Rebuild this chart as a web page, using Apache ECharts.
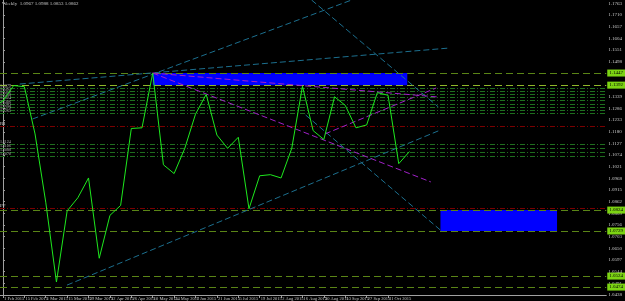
<!DOCTYPE html>
<html>
<head>
<meta charset="utf-8">
<script src="https://cdn.jsdelivr.net/npm/echarts@6/dist/echarts.min.js"></script>
<style>
  html, body { margin: 0; padding: 0; background: #000; }
  #chart { width: 625px; height: 301px; }
</style>
</head>
<body>
<div id="chart"></div>
<script>
// weekly closes, first value is the week before 1 Feb 2015
const firstWeek = -1
const weekCloses = [1.1290, 1.1320, 1.1390, 1.1385, 1.1170, 1.0860, 1.0497, 1.0820, 1.0880, 1.0970,
    1.0605, 1.0800, 1.0845, 1.1195, 1.1198, 1.1447, 1.1030, 1.0990, 1.1105, 1.1260,
    1.1350, 1.1165, 1.1105, 1.1155, 1.0830, 1.0980, 1.0985, 1.0970, 1.1105, 1.1387,
    1.1185, 1.1145, 1.1339, 1.1300, 1.1198, 1.1211, 1.1358, 1.1346, 1.1035, 1.1090]

const dateLabels = ['1 Feb 2015', '15 Feb 2015', '1 Mar 2015', '15 Mar 2015', '29 Mar 2015', '12 Apr 2015',
    '26 Apr 2015', '10 May 2015', '24 May 2015', '7 Jun 2015', '21 Jun 2015', '5 Jul 2015', '19 Jul 2015',
    '2 Aug 2015', '16 Aug 2015', '30 Aug 2015', '13 Sep 2015', '27 Sep 2015', '11 Oct 2015', '25 Oct 2015']

// horizontal levels
const oliveLevels = [1.1447, 1.0824, 1.0729, 1.0524, 1.0474]
const limeLevels = [1.1392]
const greenLevels = [1.1379, 1.1365, 1.1352, 1.1338, 1.1324, 1.1306, 1.1293, 1.1279, 1.1265,
    1.1124, 1.1106, 1.1088, 1.1070]
const redLevels = [1.1206, 1.0833]
const redNames = ['R1', 'PP']

// drawn objects [week, price]
const tealLines = [
    [[1.57, 1.1397], [41.8, 1.1561]],
    [[2.76, 1.1238], [32.6, 1.1779]],
    [[5.99, 1.0483], [40.9, 1.1188]],
    [[28.85, 1.1779], [40.7, 1.1293]],
    [[28.3, 1.1256], [40.9, 1.0733]]
]
const purpleLines = [
    [[14, 1.1447], [40.7, 1.1338]],
    [[14, 1.1447], [40, 1.0952]],
    [[30.1, 1.1170], [40.5, 1.1379]]
]
const boxes = [
    [[14.0, 1.1447], [37.8, 1.1392]],
    [[40.9, 1.0824], [51.8, 1.0729]]
]
const lastPrice = 1.1070

const chart = echarts.init(document.getElementById('chart'))

const lineData = weekCloses.map((v, i) => [firstWeek + i, v])
const tickWeeks = dateLabels.map((d, i) => i * 2)
const small = 'Liberation Sans Narrow'

const endLabel = bg => ({
    show: true, position: 'end', distance: 1, fontSize: 5, color: '#000', fontFamily: small,
    backgroundColor: bg, padding: [1, 2], formatter: p => Number(p.value).toFixed(4)
})

// one empty series per group of drawn lines
function levelSeries(values, color, type, label) {
    return {
        type: 'line', data: [], silent: true, z: 3,
        markLine: {
            silent: true, symbol: ['none', 'none'], animation: false, precision: 4,
            lineStyle: { color: color, type: type, width: 1 },
            emphasis: { disabled: true },
            label: label || { show: false },
            data: values.map(v => ({ yAxis: v }))
        }
    }
}
function trendSeries(lines, color) {
    return {
        type: 'line', data: [], silent: true, z: 4,
        markLine: {
            silent: true, symbol: ['none', 'none'], animation: false, precision: 4,
            lineStyle: { color: color, type: [6, 3], width: 1 },
            emphasis: { disabled: true },
            label: { show: false },
            data: lines.map(p => [{ coord: p[0] }, { coord: p[1] }])
        }
    }
}

chart.setOption({
    backgroundColor: '#000',
    animation: false,
    textStyle: { fontFamily: small },
    graphic: [{
        type: 'text', left: 2, top: 1,
        style: { text: 'Weekly  1.0967 1.0988 1.0853 1.0862', fill: '#c8c8c8', fontSize: 5, fontFamily: small }
    }],
    grid: { left: 0, right: 10, top: 0, bottom: 6 },
    xAxis: {
        type: 'value', min: -0.276, max: 56.4,
        axisLine: { lineStyle: { color: '#a0a0a0' } },
        axisTick: { customValues: tickWeeks, length: 3, lineStyle: { color: '#a0a0a0' } },
        axisLabel: {
            customValues: tickWeeks, fontSize: 4.5, color: '#c8c8c8', margin: 1, align: 'left',
            fontFamily: small, formatter: v => ' ' + dateLabels[Math.round(v / 2)]
        },
        splitLine: { show: false }
    },
    yAxis: {
        type: 'value', position: 'right', min: 1.0438, max: 1.1779, interval: 0.0053,
        axisLine: { show: true, lineStyle: { color: '#a0a0a0' } },
        axisTick: { show: true, length: 2, lineStyle: { color: '#a0a0a0' } },
        axisLabel: { fontSize: 5, color: '#c8c8c8', margin: 2, fontFamily: small, formatter: v => v.toFixed(4) },
        splitLine: { show: false }
    },
    series: [
        {
            type: 'line', data: [], silent: true, z: 1,
            markArea: {
                silent: true,
                itemStyle: { color: '#0000ff' },
                data: boxes.map(b => [{ coord: b[0] }, { coord: b[1] }])
            }
        },
        levelSeries(greenLevels, '#1e6e1e', [5, 2, 1, 2], {
            show: true, position: 'insideStartTop', distance: 0, fontSize: 4, color: '#bbb',
            fontFamily: small, formatter: p => Number(p.value).toFixed(4)
        }),
        levelSeries(redLevels, '#7a0000', [5, 2, 1, 2], {
            show: true, position: 'insideStartTop', distance: 0, fontSize: 5, color: '#ccc',
            fontFamily: small, formatter: p => redNames[redLevels.indexOf(Number(p.value))] || ''
        }),
        levelSeries(oliveLevels, '#5a8516', [7, 4], endLabel('#7cd313')),
        levelSeries(limeLevels, '#8fb82a', [7, 4], endLabel('#7cd313')),
        {
            type: 'line', data: [], silent: true,
            markLine: {
                silent: true, symbol: ['none', 'none'], animation: false, precision: 4,
                lineStyle: { opacity: 0 },
                label: endLabel('#ffffff'),
                data: [{ yAxis: lastPrice }]
            }
        },
        trendSeries(tealLines, '#1c6f8e'),
        trendSeries(purpleLines, '#a020c8'),
        {
            type: 'line',
            data: lineData,
            symbol: 'none',
            lineStyle: { color: '#1ee81e', width: 1 },
            z: 5
        }
    ]
})
</script>
</body>
</html>
